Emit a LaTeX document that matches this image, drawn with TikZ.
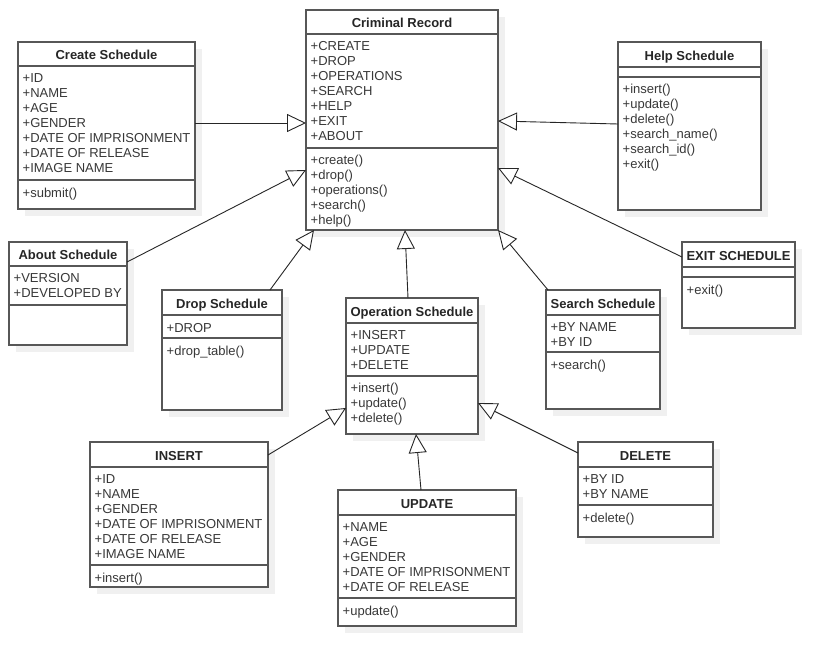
\documentclass[tikz,border=0pt]{standalone}
\usepackage{fontspec}
\setmainfont{Liberation Sans}
\usetikzlibrary{arrows.meta}

\tikzset{
  boxline/.style={draw=black!66, line width=1.25pt},
  boxshadow/.style={fill=black!6},
  umlbox/.style={boxline, fill=white, inner sep=0pt, outer sep=0pt, anchor=north west},
  umltitle/.style={font=\fontsize{13}{15}\selectfont\bfseries, text=black!85,
    inner sep=0pt, text height=9.4pt, text depth=0pt},
  umltext/.style={font=\fontsize{13}{15}\selectfont, text=black!78, align=left,
    anchor=north west, inner sep=0pt, execute at begin node=\strut},
  inherit/.style={draw=black!85, line width=0.9pt,
    -{Triangle[open, length=19pt, width=18pt, fill=white, line width=0.9pt]}},
}

% #1 name, #2/#3 top-left, #4/#5 bottom-right, #6/#7 compartment rules, #8 title
\newcommand\umlclass[8]{%
  \fill[boxshadow] (#2+7,#3+7) rectangle (#4+7,#5+7);
  \node[umlbox, minimum width={#4-#2}, minimum height={#5-#3}] (#1) at (#2,#3) {};
  \draw[boxline] (#2,#6) -- (#4,#6);
  \draw[boxline] (#2,#7) -- (#4,#7);
  \node[umltitle] (#1-title) at ({(#2+#4)/2},{(#3+#6)/2+1}) {#8};
}
% #1 name, #2 left edge, #3 compartment rule above, #4 lines
\newcommand\umllines[4]{%
  \node[umltext] (#1) at (#2+4.5,#3+7) {#4};
}

\begin{document}
\begin{tikzpicture}[x=1pt,y=-1pt]
\fill[white] (0,0) rectangle (835,666);
\useasboundingbox (0,0) rectangle (835,666);

% classes
\umlclass{crim}{306}{10}{498}{230}{34}{148}{Criminal Record}
\umllines{crim-a}{306}{34}{+CREATE\\+DROP\\+OPERATIONS\\+SEARCH\\+HELP\\+EXIT\\+ABOUT}
\umllines{crim-m}{306}{148}{+create()\\+drop()\\+operations()\\+search()\\+help()}

\umlclass{create}{18}{42}{195}{209}{66}{180}{Create Schedule}
\umllines{create-a}{18}{66}{+ID\\+NAME\\+AGE\\+GENDER\\+DATE OF IMPRISONMENT\\+DATE OF RELEASE\\+IMAGE NAME}
\umllines{create-m}{18}{180}{+submit()}

\umlclass{help}{618}{42}{761}{210}{67}{77}{Help Schedule}
\umllines{help-m}{618}{77}{+insert()\\+update()\\+delete()\\+search\_name()\\+search\_id()\\+exit()}

\umlclass{about}{9}{242}{127}{345}{266}{305}{About Schedule}
\umllines{about-a}{9}{266}{+VERSION\\+DEVELOPED BY}

\umlclass{drop}{162}{290}{282}{410}{315}{338}{Drop Schedule}
\umllines{drop-a}{162}{315}{+DROP}
\umllines{drop-m}{162}{338}{+drop\_table()}

\umlclass{op}{346}{298}{478}{434}{323}{376}{Operation Schedule}
\umllines{op-a}{346}{323}{+INSERT\\+UPDATE\\+DELETE}
\umllines{op-m}{346}{376}{+insert()\\+update()\\+delete()}

\umlclass{search}{546}{290}{660}{409}{315}{352}{Search Schedule}
\umllines{search-a}{546}{315}{+BY NAME\\+BY ID}
\umllines{search-m}{546}{352}{+search()}

\umlclass{exit}{682}{242}{795}{328}{267}{277}{EXIT SCHEDULE}
\umllines{exit-m}{682}{277}{+exit()}

\umlclass{insert}{90}{442}{268}{587}{467}{565}{INSERT}
\umllines{insert-a}{90}{467}{+ID\\+NAME\\+GENDER\\+DATE OF IMPRISONMENT\\+DATE OF RELEASE\\+IMAGE NAME}
\umllines{insert-m}{90}{565}{+insert()}

\umlclass{update}{338}{490}{516}{626}{515}{598}{UPDATE}
\umllines{update-a}{338}{515}{+NAME\\+AGE\\+GENDER\\+DATE OF IMPRISONMENT\\+DATE OF RELEASE}
\umllines{update-m}{338}{598}{+update()}

\umlclass{delete}{578}{442}{713}{537}{467}{505}{DELETE}
\umllines{delete-a}{578}{467}{+BY ID\\+BY NAME}
\umllines{delete-m}{578}{505}{+delete()}

% generalisations
\draw[inherit] (create.east |- 0,123) -- (crim.west |- 0,123);
\draw[inherit] (about.east |- 0,262) -- (crim.west |- 0,170);
\draw[inherit] (drop.north -| 270,0) -- (crim.south -| 314,0);
\draw[inherit] (op.north -| 408,0) -- (crim.south -| 405,0);
\draw[inherit] (search.north -| 548,0) -- (crim.south east);
\draw[inherit] (exit.west |- 0,257) -- (crim.east |- 0,168);
\draw[inherit] (help.west |- 0,124) -- (crim.east |- 0,121);
\draw[inherit] (insert.east |- 0,455) -- (op.west |- 0,408);
\draw[inherit] (update.north -| 421,0) -- (op.south -| 416,0);
\draw[inherit] (delete.west |- 0,453) -- (op.east |- 0,403);
\end{tikzpicture}
\end{document}
